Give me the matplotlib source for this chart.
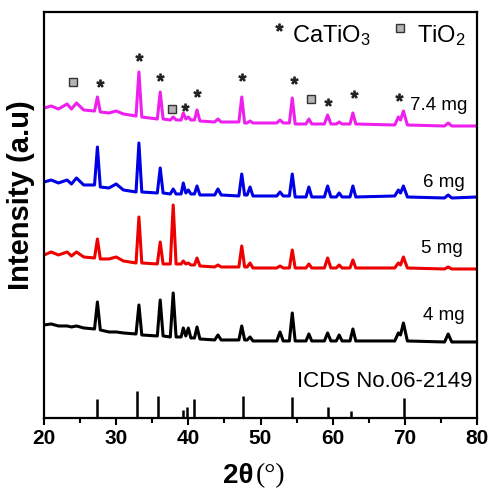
import numpy as np
import matplotlib
matplotlib.use("Agg")
import matplotlib.pyplot as plt

plt.rcParams['font.family'] = ['Liberation Sans', 'DejaVu Sans']
plt.rcParams['mathtext.fontset'] = 'custom'
plt.rcParams['mathtext.rm'] = 'Liberation Sans'
plt.rcParams['mathtext.default'] = 'regular'

# --- DATA (intensity in arbitrary units) ---
two_theta = [20.0, 21.0, 22.0, 23.2, 23.8, 24.5, 25.5, 27.0, 27.4, 27.8,
             29.0, 30.0, 31.0, 32.75, 33.15, 33.55, 35.7, 36.1, 36.5, 37.5,
             37.9, 38.3, 39.0, 39.3, 39.65, 40.0, 40.35, 40.85, 41.2, 41.6,
             43.65, 44.1, 44.55, 47.0, 47.4, 47.8, 48.15, 48.55, 48.95, 52.25,
             52.7, 53.15, 54.0, 54.4, 54.8, 56.3, 56.7, 57.1, 58.85, 59.3,
             59.75, 60.5, 60.9, 61.3, 62.4, 62.8, 63.2, 68.6, 69.1, 69.4,
             69.8, 70.35, 75.5, 76.0, 76.5, 80.0]

int_74mg = [310, 312, 309, 314, 309, 315, 308, 307, 321, 306,
            305, 307, 304, 302, 346, 301, 299, 326, 299, 298,
            301, 298, 298, 305, 299, 301, 298, 298, 308, 297,
            296, 299, 296, 296, 321, 295, 295, 297, 295, 295,
            298, 295, 295, 320, 294, 294, 299, 294, 294, 303,
            294, 294, 296, 294, 294, 305, 294, 293, 301, 298,
            307, 293, 292, 295, 292, 292]

int_6mg = [236, 238, 235, 238, 234, 240, 233, 233, 271, 231,
           230, 234, 228, 226, 275, 226, 225, 250, 225, 224,
           229, 224, 224, 235, 225, 228, 224, 224, 232, 223,
           223, 229, 223, 222, 244, 223, 223, 231, 222, 222,
           226, 222, 222, 244, 221, 221, 231, 221, 221, 232,
           221, 221, 225, 221, 221, 232, 221, 222, 228, 225,
           232, 221, 220, 223, 220, 221]

int_5mg = [163, 166, 163, 166, 162, 166, 161, 160, 179, 159,
           159, 161, 157, 155, 201, 155, 154, 176, 154, 154,
           213, 154, 154, 157, 154, 155, 153, 153, 160, 152,
           151, 153, 151, 151, 172, 151, 151, 155, 150, 150,
           152, 150, 150, 168, 150, 150, 154, 150, 150, 160,
           150, 150, 153, 150, 150, 158, 150, 150, 155, 153,
           161, 150, 149, 151, 149, 149]

int_4mg = [93, 94, 92, 92, 91, 92, 90, 89, 116, 88,
           86, 86, 85, 84, 113, 83, 82, 118, 82, 81,
           125, 81, 81, 90, 82, 90, 80, 80, 91, 79,
           78, 83, 78, 78, 92, 78, 78, 81, 77, 77,
           86, 77, 77, 105, 77, 77, 84, 77, 77, 85,
           77, 77, 83, 77, 77, 89, 77, 77, 85, 83,
           95, 77, 76, 84, 76, 76]

# ICDS No.06-2149 reference lines
ref_pos = [27.4, 32.85, 35.8, 39.2, 39.8, 40.8, 47.6, 54.3, 59.3, 62.6, 69.9]
ref_int = [19, 27, 22, 8, 11, 19, 22, 21, 11, 7, 20]

# phase markers above the 7.4 mg pattern
cati_pos = [27.8, 33.1, 36.1, 39.6, 41.2, 47.4, 54.6, 59.3, 62.9, 69.2]
cati_int = [335, 361, 341, 311, 325, 341, 338, 316, 324, 321]
tio2_pos = [24.0, 37.7, 57.0]
tio2_int = [336, 309, 319]

series = [("7.4 mg", int_74mg, '#ee20ee'),
          ("6 mg", int_6mg, '#0000e6'),
          ("5 mg", int_5mg, '#ee0000'),
          ("4 mg", int_4mg, 'black')]
label_pos = {"7.4 mg": (70.7, 308), "6 mg": (72.5, 231),
             "5 mg": (72.2, 165), "4 mg": (72.5, 98)}

fig = plt.figure(figsize=(4.89, 4.90), dpi=100)
ax = fig.add_axes([0.09, 0.147, 0.8855, 0.8285])

for name, vals, col in series:
    ax.plot(two_theta, vals, color=col, lw=2.2, solid_joinstyle='round')
    tx, ty = label_pos[name]
    ax.text(tx, ty, name, fontsize=13.5, va='baseline', ha='left')

ax.vlines(ref_pos, 0, ref_int, color='black', lw=1.8)
ax.text(79.4, 31, "ICDS No.06-2149", fontsize=16, va='baseline', ha='right')

ax.plot(cati_pos, cati_int, ls='none', marker='$*$', ms=5, color='#222222')
ax.plot(tio2_pos, tio2_int, ls='none', marker='s', ms=5.5,
        mfc='#b4b4b4', mec='#333333', mew=1.0)

# legend made by hand
ax.plot([52.6], [391], ls='none', marker='$*$', ms=5, color='#222222')
ax.text(54.3, 376, "CaTiO$_3$", fontsize=17, va='baseline', ha='left')
ax.plot([69.3], [390], ls='none', marker='s', ms=5.5,
        mfc='#b4b4b4', mec='#333333', mew=1.0)
ax.text(71.7, 376, "TiO$_2$", fontsize=17, va='baseline', ha='left')

ax.set_xlim(20, 80)
ax.set_ylim(0, 406)
ax.set_xticks(np.arange(20, 81, 10))
ax.set_xticks(np.arange(25, 80, 10), minor=True)
ax.set_yticks([])
ax.tick_params(axis='x', which='major', direction='out', length=5, width=1.5,
               labelsize=15, pad=3)
ax.tick_params(axis='x', which='minor', direction='out', length=3.5, width=1.5)
for lab in ax.get_xticklabels():
    lab.set_fontweight('bold')
for sp in ax.spines.values():
    sp.set_linewidth(1.6)

fig.text(21.5 / 489, 1 - 195 / 490, "Intensity (a.u)", rotation=90,
         fontsize=21, fontweight='bold', ha='center', va='center')
fig.text(254 / 489, 1 - 476 / 490, "2θ", fontsize=20, fontweight='bold',
         ha='right', va='center')
fig.text(256 / 489, 1 - 476 / 490, "(°)", fontsize=20,
         family='Liberation Serif', ha='left', va='center')

fig.savefig("out.png", dpi=100)
